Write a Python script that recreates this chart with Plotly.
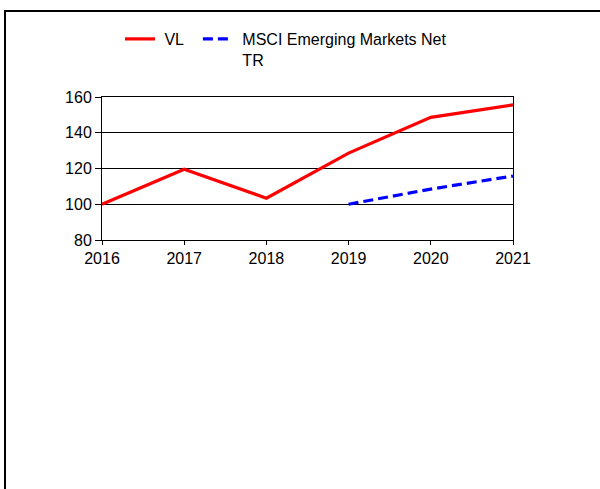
import plotly.graph_objects as go

years = [2016, 2017, 2018, 2019, 2020, 2021]
vl_values = [100, 119.6, 103.4, 128.6, 148.6, 155.6]
msci_values = [None, None, None, 100, 108.5, 115.8]
series_names = ["\u00a0VL\u00a0\u00a0", "\u00a0MSCI Emerging Markets Net<br>\u00a0TR"]
y_ticks = [80, 100, 120, 140, 160]

W, H = 600, 489
L, R, T, B = 102, 87, 97, 249
pw = W - L - R
ph = H - T - B

def px_to_paper_x(px):
    return (px - L) / pw

def py_to_paper_y(py):
    return (H - B - py) / ph

fig = go.Figure()
fig.add_trace(go.Scatter(x=years, y=vl_values, mode="lines", name=series_names[0],
                         line=dict(color="#ff0000", width=3.2)))
fig.add_trace(go.Scatter(x=years, y=msci_values, mode="lines", name=series_names[1],
                         line=dict(color="#0000ff", width=3.2, dash="10px,5px")))

font = dict(family="Arial, Liberation Sans, sans-serif", size=16, color="#000000")

fig.update_layout(
    width=W, height=H,
    margin=dict(l=L, r=R, t=T, b=B, pad=0),
    paper_bgcolor="white", plot_bgcolor="white",
    font=font,
    showlegend=True,
    legend=dict(orientation="h", x=px_to_paper_x(120), xanchor="left",
                y=py_to_paper_y(22), yanchor="top", valign="top",
                font=font, bgcolor="rgba(0,0,0,0)", tracegroupgap=0,
                itemwidth=30),
    xaxis=dict(range=[2016, 2021], tickvals=years, ticktext=[str(y) for y in years],
               showgrid=False, zeroline=False, showline=True, linecolor="black",
               linewidth=1, mirror=True, ticks="outside", ticklen=4, tickcolor="black",
               tickfont=font),
    yaxis=dict(range=[80, 160], tickvals=y_ticks, showgrid=True, gridcolor="black",
               gridwidth=1, zeroline=False, showline=True, linecolor="black",
               linewidth=1, mirror=True, ticks="outside", ticklen=6, tickcolor="black",
               tickfont=font),
    shapes=[
        dict(type="rect", xref="paper", yref="paper",
             x0=px_to_paper_x(4), x1=px_to_paper_x(600),
             y0=py_to_paper_y(12), y1=py_to_paper_y(10),
             line=dict(width=0), fillcolor="black", layer="above"),
        dict(type="rect", xref="paper", yref="paper",
             x0=px_to_paper_x(4), x1=px_to_paper_x(6),
             y0=py_to_paper_y(489), y1=py_to_paper_y(10),
             line=dict(width=0), fillcolor="black", layer="above"),
    ],
)

fig.write_html(
    "out.html", config={"displayModeBar": False},
    post_script="var d=document.getElementById('{plot_id}');"
                "d.style.position='absolute';d.style.left='0px';d.style.top='0px';",
)
